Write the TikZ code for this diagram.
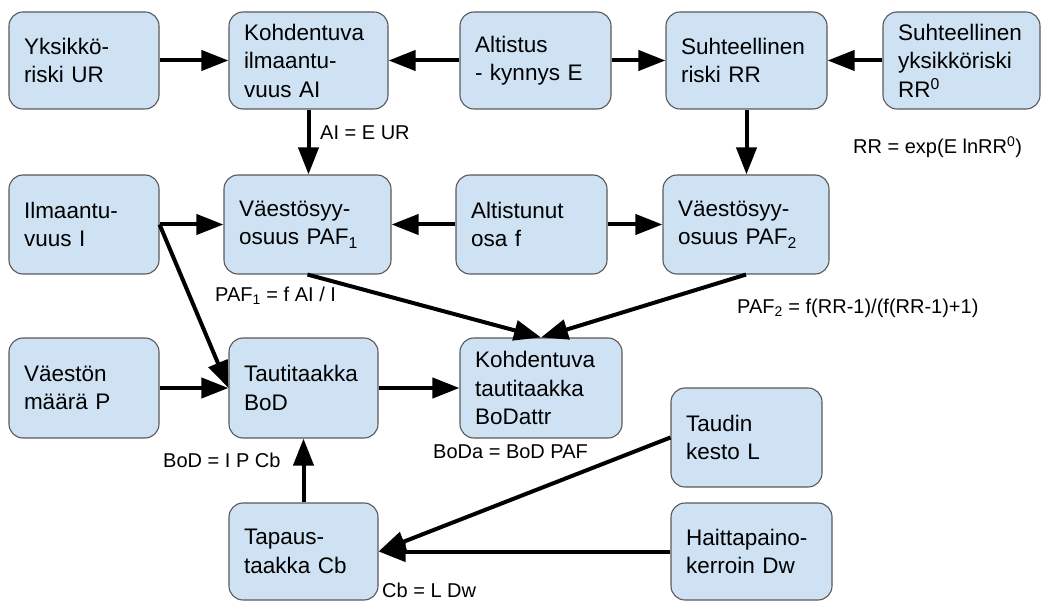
\documentclass[tikz,border=0pt]{standalone}
\usepackage{fontspec}
\setmainfont{Liberation Sans}
\usetikzlibrary{arrows.meta}
\definecolor{boxfill}{HTML}{CFE2F3}
\definecolor{boxline}{HTML}{595959}
\tikzset{
  box/.style={draw=boxline, fill=boxfill, line width=1.1pt, rounded corners=14pt,
    align=left, inner xsep=15pt, inner ysep=0pt,
    font=\fontsize{22.5}{28.5}\selectfont},
  bw/.style={text width=#1pt-30pt},
  bh/.style={minimum height=#1pt},
  arr/.style={-{Triangle[length=27pt,width=20pt]}, line width=4pt},
  lbl/.style={anchor=west, inner sep=0pt, font=\fontsize{20}{24}\selectfont}
}
\begin{document}
\begin{tikzpicture}[x=1pt,y=-1pt]
\useasboundingbox (0,0) rectangle (1041,601);
% row 1
\node[box,bw=150,bh=97] (UR) at (84,60.5) {Yksikkö-\\riski UR};
\node[box,bw=159,bh=97] (AI) at (308.5,60.5) {Kohdentuva\\ilmaantu-\\vuus AI};
\node[box,bw=151,bh=97] (E) at (535.5,60.5) {Altistus\\- kynnys E};
\node[box,bw=161,bh=97] (RR) at (746.5,60.5) {Suhteellinen\\riski RR};
\node[box,bw=157,bh=97] (RR0) at (961.5,60.5) {Suhteellinen\\yksikköriski\\RR\textsuperscript{0}};
% row 2
\node[box,bw=150,bh=99] (I) at (84,224.5) {Ilmaantu-\\vuus I};
\node[box,bw=167,bh=99] (PAF1) at (307.5,224.5) {Väestösyy-\\osuus PAF\textsubscript{1}};
\node[box,bw=151,bh=99] (f) at (531.5,224.5) {Altistunut\\osa f};
\node[box,bw=166,bh=99] (PAF2) at (746,224.5) {Väestösyy-\\osuus PAF\textsubscript{2}};
% row 3
\node[box,bw=150,bh=100] (P) at (84,388) {Väestön\\määrä P};
\node[box,bw=149,bh=100] (BoD) at (303.5,388) {Tautitaakka\\BoD};
\node[box,bw=162,bh=100] (BoDattr) at (541,388) {Kohdentuva\\tautitaakka\\BoDattr};
\node[box,bw=151,bh=99] (L) at (746.5,437.5) {Taudin\\kesto L};
% row 4
\node[box,bw=149,bh=97] (Cb) at (303.5,551.5) {Tapaus-\\taakka Cb};
\node[box,bw=161,bh=97] (Dw) at (751.5,551.5) {Haittapaino-\\kerroin Dw};
% labels
\node[lbl] (lAI) at (320,133) {AI = E UR};
\node[lbl] (lRR) at (853,147) {RR = exp(E lnRR\textsuperscript{0})};
\node[lbl] (lPAF1) at (215,296) {PAF\textsubscript{1} = f AI / I};
\node[lbl] (lPAF2) at (737,308) {PAF\textsubscript{2} = f(RR-1)/(f(RR-1)+1)};
\node[lbl] (lBoD) at (163,460) {BoD = I P Cb};
\node[lbl] (lBoDa) at (433,452) {BoDa = BoD PAF};
\node[lbl] (lCb) at (382,590) {Cb = L Dw};
% connectors
\draw[arr] (UR.east) -- (AI.west);
\draw[arr] (E.west) -- (AI.east);
\draw[arr] (E.east) -- (RR.west);
\draw[arr] (RR0.west) -- (RR.east);
\draw[arr] (AI.south) -- (AI.south |- PAF1.north);
\draw[arr] (RR.south) -- (RR.south |- PAF2.north);
\draw[arr] (I.east) -- (PAF1.west);
\draw[arr] (f.west) -- (PAF1.east);
\draw[arr] (f.east) -- (PAF2.west);
\draw[arr] (I.east) -- (BoD.west);
\draw[arr] (P.east) -- (BoD.west);
\draw[arr] (PAF1.south) -- (BoDattr.north);
\draw[arr] (PAF2.south) -- (BoDattr.north);
\draw[arr] (BoD.east) -- (BoDattr.west);
\draw[arr] (Cb.north) -- (BoD.south);
\draw[arr] (L.west) -- (Cb.east);
\draw[arr] (Dw.west) -- (Cb.east);
\end{tikzpicture}
\end{document}
